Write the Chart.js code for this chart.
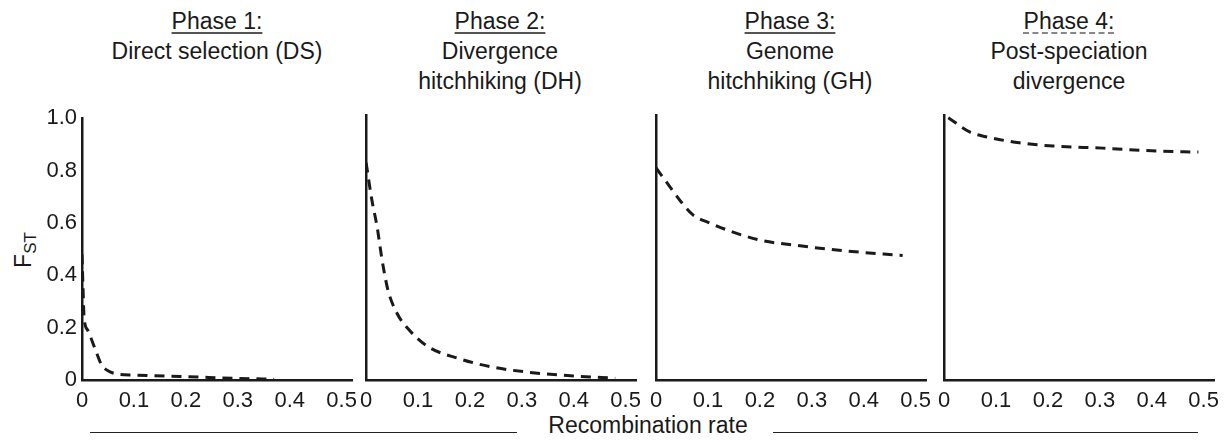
<!DOCTYPE html>
<html>
<head>
<meta charset="utf-8">
<script src="https://cdn.jsdelivr.net/npm/chart.js@4/dist/chart.umd.min.js"></script>
<style>
  body { margin: 0; background: #fff; width: 1228px; height: 441px; position: relative; overflow: hidden;
         font-family: "Liberation Sans", Arial, sans-serif; color: #1a1a1a; }
  canvas { position: absolute; top: 100px; }
  .title { position: absolute; top: 6px; width: 280px; text-align: center; font-size: 23px; line-height: 30px; }
  .title u { text-decoration-thickness: 1.5px; text-underline-offset: 3px; text-decoration-color: #555; }
  .title u.dash { text-decoration-style: dashed; text-decoration-color: #888; }
  .fst { position: absolute; left: 25px; top: 250px; font-size: 23px; transform: translate(-50%, -50%) rotate(-90deg); white-space: nowrap; }
  .fst sub { font-size: 17px; vertical-align: -5px; }
  .xlabel { position: absolute; left: 648px; top: 425px; transform: translate(-50%, -50%); font-size: 23px; white-space: nowrap; }
  .rule { position: absolute; height: 0; border-top: 1.5px solid #222; top: 432px; }
</style>
</head>
<body>
<div class="title" style="left:77px"><u>Phase 1:</u><br>Direct selection (DS)</div>
<div class="title" style="left:360px"><u>Phase 2:</u><br>Divergence<br>hitchhiking (DH)</div>
<div class="title" style="left:650px"><u>Phase 3:</u><br>Genome<br>hitchhiking (GH)</div>
<div class="title" style="left:929px"><u class="dash">Phase 4:</u><br>Post-speciation<br>divergence</div>
<div class="fst">F<sub>ST</sub></div>
<div class="rule" style="left:90px; width:427px"></div>
<div class="rule" style="left:773px; width:425px"></div>
<div class="xlabel">Recombination rate</div>

<canvas id="p1" width="342" height="320" style="left:30px"></canvas>
<canvas id="p2" width="304" height="320" style="left:352px"></canvas>
<canvas id="p3" width="304" height="320" style="left:642px"></canvas>
<canvas id="p4" width="304" height="320" style="left:930px"></canvas>

<script>
// tick values / labels
const xTickValues = [0, 0.1, 0.2, 0.3, 0.4, 0.5];
const xTickLabels = ['0', '0.1', '0.2', '0.3', '0.4', '0.5'];
const yTickValues = [0, 0.2, 0.4, 0.6, 0.8, 1.0];
const yTickLabels = ['0', '0.2', '0.4', '0.6', '0.8', '1.0'];

// recombination rate (x) and FST (y)
const phase1X = [0, 0.002, 0.004, 0.011, 0.025, 0.038, 0.05, 0.067, 0.1, 0.2, 0.3, 0.37];
const phase1Y = [0.48, 0.35, 0.24, 0.19, 0.12, 0.057, 0.035, 0.023, 0.019, 0.013, 0.006, 0.003];

const phase2X = [0, 0.011, 0.021, 0.031, 0.042, 0.06, 0.08, 0.12, 0.175, 0.24, 0.31, 0.4, 0.48];
const phase2Y = [0.82, 0.68, 0.58, 0.45, 0.34, 0.25, 0.195, 0.125, 0.083, 0.05, 0.03, 0.015, 0.007];

const phase3X = [0, 0.027, 0.05, 0.071, 0.104, 0.137, 0.2, 0.27, 0.365, 0.475];
const phase3Y = [0.80, 0.728, 0.668, 0.623, 0.592, 0.566, 0.528, 0.508, 0.487, 0.47];

const phase4X = [0.008, 0.05, 0.083, 0.145, 0.21, 0.305, 0.40, 0.49];
const phase4Y = [0.99, 0.935, 0.917, 0.895, 0.883, 0.875, 0.865, 0.86];

const FONT = { family: '"Liberation Sans", Arial, sans-serif', size: 22 };
const INK = '#1a1a1a';

function makePanel(id, xs, ys, showY) {
    const points = xs.map((x, i) => ({ x: x, y: ys[i] }));
    return new Chart(document.getElementById(id), {
        type: 'line',
        data: {
            datasets: [{
                data: points,
                borderColor: INK,
                borderWidth: 3,
                borderDash: [10, 7],
                pointRadius: 0,
                cubicInterpolationMode: 'monotone',
                fill: false
            }]
        },
        options: {
            responsive: false,
            animation: false,
            layout: { padding: { top: 15, right: 20, left: 0, bottom: 0 } },
            plugins: { legend: { display: false }, tooltip: { enabled: false } },
            scales: {
                x: {
                    type: 'linear',
                    min: 0,
                    max: 0.52,
                    grid: { display: false, drawTicks: false },
                    border: { color: INK, width: 2.5 },
                    afterBuildTicks: scale => { scale.ticks = xTickValues.map(v => ({ value: v })); },
                    afterFit: scale => { scale.height = 40; },
                    ticks: {
                        color: INK, font: FONT, padding: 8, maxRotation: 0, autoSkip: false,
                        callback: v => xTickLabels[xTickValues.indexOf(Math.round(v * 10) / 10)]
                    }
                },
                y: {
                    min: 0,
                    max: 1.0,
                    grid: { display: false, drawTicks: false },
                    border: { color: INK, width: 2.5 },
                    afterBuildTicks: scale => { scale.ticks = yTickValues.map(v => ({ value: v })); },
                    afterFit: scale => { scale.width = showY ? 52 : 14; },
                    ticks: {
                        display: showY, color: INK, font: FONT, padding: 5,
                        callback: v => yTickLabels[yTickValues.indexOf(Math.round(v * 10) / 10)]
                    }
                }
            }
        }
    });
}

makePanel('p1', phase1X, phase1Y, true);
makePanel('p2', phase2X, phase2Y, false);
makePanel('p3', phase3X, phase3Y, false);
makePanel('p4', phase4X, phase4Y, false);
</script>
</body>
</html>
